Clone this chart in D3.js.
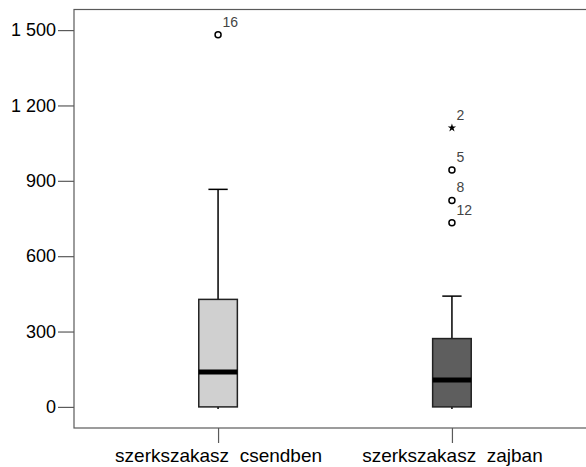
<!DOCTYPE html>
<html>
<head>
<meta charset="utf-8">
<script src="https://cdn.jsdelivr.net/npm/d3@7"></script>
<style>
  html, body { margin: 0; padding: 0; background: #fff; }
  svg { display: block; }
</style>
</head>
<body>
<svg id="chart" width="586" height="467"></svg>
<script>
// Group labels and five-number summaries
const categories = ["szerkszakasz\u00a0\u00a0csendben", "szerkszakasz\u00a0\u00a0zajban"];
const whiskerLow = [0, 0];
const q1 = [0, 0];
const median = [139, 107];
const q3 = [428, 272];
const whiskerHigh = [866, 441];
const boxFill = ["#d0d0d0", "#5e5e5e"];

// Outlying cases: group index, value, case number, marker kind
const outlierGroup = [0, 1, 1, 1, 1];
const outlierValue = [1481, 1111, 943, 822, 733];
const outlierCase = ["16", "2", "5", "8", "12"];
const outlierKind = ["circle", "star", "circle", "circle", "circle"];

const yTicks = [0, 300, 600, 900, 1200, 1500];

const svg = d3.select("#chart");
const plot = { left: 74, top: 9.5, bottom: 428, right: 596 };

const x = d3.scalePoint().domain(categories).range([plot.left, plot.right]).padding(0.616);
const y = d3.scaleLinear().domain([-84, 1582]).range([plot.bottom, plot.top]);
const step = x.step();
const boxW = step * 0.165;
const capW = boxW * 0.5;

// Frame
const frameColor = "#5a5a5a";
svg.append("rect")
  .attr("x", plot.left).attr("y", plot.top)
  .attr("width", plot.right - plot.left).attr("height", plot.bottom - plot.top)
  .attr("fill", "none").attr("stroke", frameColor).attr("stroke-width", 1.2);

// Y axis
const yAxis = d3.axisLeft(y).tickValues(yTicks).tickSize(16).tickPadding(2)
  .tickFormat(d => d3.format(",")(d).replace(/,/g, " "));
const gy = svg.append("g").attr("transform", `translate(${plot.left},0)`).call(yAxis);
gy.select(".domain").remove();
gy.selectAll(".tick line").attr("stroke", frameColor).attr("stroke-width", 1.2);
gy.selectAll(".tick text")
  .attr("fill", "#000")
  .style("font-family", "Arial, 'Liberation Sans', sans-serif")
  .style("font-size", "18px");

// X axis
const xAxis = d3.axisBottom(x).tickSize(15).tickPadding(6);
const gx = svg.append("g").attr("transform", `translate(0,${plot.bottom})`).call(xAxis);
gx.select(".domain").remove();
gx.selectAll(".tick line").attr("stroke", frameColor).attr("stroke-width", 1.2);
gx.selectAll(".tick text")
  .attr("fill", "#000")
  .style("font-family", "Arial, 'Liberation Sans', sans-serif")
  .style("font-size", "19px");

// Boxes
const groups = categories.map((c, i) => ({
  c, lo: whiskerLow[i], q1: q1[i], med: median[i], q3: q3[i], hi: whiskerHigh[i], fill: boxFill[i]
}));
const g = svg.append("g").selectAll("g").data(groups).join("g")
  .attr("transform", d => `translate(${x(d.c)},0)`);

// whiskers
g.append("line").attr("x1", 0).attr("x2", 0)
  .attr("y1", d => y(d.q3)).attr("y2", d => y(d.hi))
  .attr("stroke", "#000").attr("stroke-width", 1.5);
g.append("line").attr("x1", -capW / 2).attr("x2", capW / 2)
  .attr("y1", d => y(d.hi)).attr("y2", d => y(d.hi))
  .attr("stroke", "#000").attr("stroke-width", 1.5);
g.append("line").attr("x1", 0).attr("x2", 0)
  .attr("y1", d => y(d.q1)).attr("y2", d => y(d.lo) + 2)
  .attr("stroke", "#000").attr("stroke-width", 1.5);

// box
g.append("rect")
  .attr("x", -boxW / 2).attr("width", boxW)
  .attr("y", d => y(d.q3)).attr("height", d => y(d.q1) - y(d.q3))
  .attr("fill", d => d.fill).attr("stroke", "#222").attr("stroke-width", 1.5);

// median
g.append("line").attr("x1", -boxW / 2).attr("x2", boxW / 2)
  .attr("y1", d => y(d.med)).attr("y2", d => y(d.med))
  .attr("stroke", "#000").attr("stroke-width", 5);

// Outliers
const outliers = outlierValue.map((v, i) => ({
  v, c: categories[outlierGroup[i]], id: outlierCase[i], kind: outlierKind[i]
}));
const og = svg.append("g").selectAll("g").data(outliers).join("g")
  .attr("transform", d => `translate(${x(d.c)},${y(d.v)})`);

og.filter(d => d.kind === "circle").append("circle")
  .attr("r", 3).attr("fill", "#fff").attr("stroke", "#000").attr("stroke-width", 1.5);
og.filter(d => d.kind === "star").append("path")
  .attr("d", d3.symbol(d3.symbolStar, 22)())
  .attr("fill", "#000");

og.append("text")
  .attr("x", 4.5).attr("y", -8)
  .attr("fill", "#444")
  .style("font-family", "Arial, 'Liberation Sans', sans-serif")
  .style("font-size", "14px")
  .text(d => d.id);
</script>
</body>
</html>
